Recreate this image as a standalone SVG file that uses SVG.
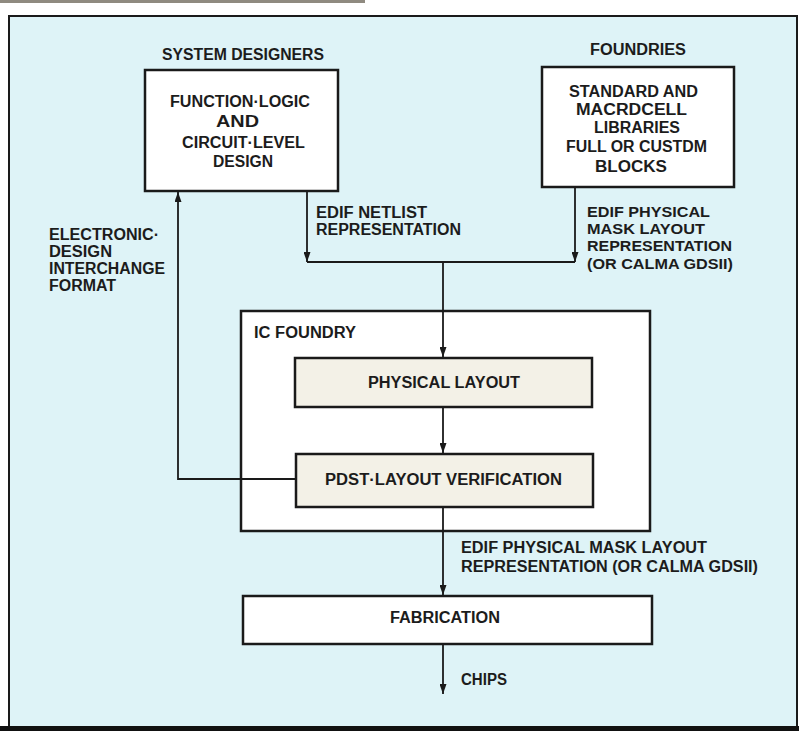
<svg xmlns="http://www.w3.org/2000/svg" width="799" height="731" viewBox="0 0 799 731">
<defs>
<marker id="ah" viewBox="0 0 10 7" refX="10" refY="3.5" markerWidth="10" markerHeight="7" markerUnits="userSpaceOnUse" orient="auto">
<path d="M0,0 L10,3.5 L0,7 Z" fill="#1a1a1a"/>
</marker>
<style>
text{font-family:"Liberation Sans",Arial,sans-serif;font-weight:bold;font-size:16px;fill:#1c1c1c;}
.lbl{font-size:16px;}
.sm{font-size:15px;}
.box{fill:#ffffff;stroke:#1a1a1a;stroke-width:2.5;}
.gbox{fill:#f3f1e7;stroke:#1a1a1a;stroke-width:2.5;}
.con{fill:none;stroke:#1a1a1a;stroke-width:1.8;}
.arr{marker-end:url(#ah);}
</style>
</defs>
<rect x="0" y="0" width="799" height="731" fill="#ffffff"/>
<rect x="0" y="0" width="365" height="3" fill="#8f8a80"/>
<rect id="frame" x="9" y="16" width="788" height="711" fill="#def3f7" stroke="#1a1a1a" stroke-width="2"/>
<rect x="0" y="726" width="799" height="5" fill="#111111"/>

<g id="system-designers">
<text x="162" y="60" textLength="162" lengthAdjust="spacingAndGlyphs">SYSTEM DESIGNERS</text>
<rect class="box" x="145" y="70" width="193" height="121"/>
<text x="170" y="107" textLength="140" lengthAdjust="spacingAndGlyphs">FUNCTION·LOGIC</text>
<text x="216" y="127" textLength="43" lengthAdjust="spacingAndGlyphs">AND</text>
<text x="182" y="148" textLength="123" lengthAdjust="spacingAndGlyphs">CIRCUIT·LEVEL</text>
<text x="213" y="167" textLength="60" lengthAdjust="spacingAndGlyphs">DESIGN</text>
</g>

<g id="foundries">
<text x="590" y="55" textLength="96" lengthAdjust="spacingAndGlyphs">FOUNDRIES</text>
<rect class="box" x="542" y="67" width="192" height="120"/>
<text x="569" y="97" textLength="129" lengthAdjust="spacingAndGlyphs">STANDARD AND</text>
<text x="576" y="115" textLength="111" lengthAdjust="spacingAndGlyphs">MACRDCELL</text>
<text x="594" y="133" textLength="86" lengthAdjust="spacingAndGlyphs">LIBRARIES</text>
<text x="566" y="152" textLength="141" lengthAdjust="spacingAndGlyphs">FULL OR CUSTDM</text>
<text x="595" y="172" textLength="72" lengthAdjust="spacingAndGlyphs">BLOCKS</text>
</g>

<g id="label-netlist">
<text class="lbl" x="316" y="218" textLength="111" lengthAdjust="spacingAndGlyphs">EDIF NETLIST</text>
<text class="lbl" x="316" y="235" textLength="145" lengthAdjust="spacingAndGlyphs">REPRESENTATION</text>
</g>

<g id="label-physical-mask">
<text class="sm" x="587" y="217" textLength="123" lengthAdjust="spacingAndGlyphs">EDIF PHYSICAL</text>
<text class="sm" x="587" y="234" textLength="118" lengthAdjust="spacingAndGlyphs">MASK LAYOUT</text>
<text class="sm" x="587" y="251" textLength="145" lengthAdjust="spacingAndGlyphs">REPRESENTATION</text>
<text class="sm" x="587" y="268.5" textLength="146" lengthAdjust="spacingAndGlyphs">(OR CALMA GDSII)</text>
</g>

<g id="label-edif">
<text class="lbl" x="49" y="240" textLength="110" lengthAdjust="spacingAndGlyphs">ELECTRONIC·</text>
<text class="lbl" x="49" y="257" textLength="63" lengthAdjust="spacingAndGlyphs">DESIGN</text>
<text class="lbl" x="49" y="274" textLength="116" lengthAdjust="spacingAndGlyphs">INTERCHANGE</text>
<text class="lbl" x="49" y="291" textLength="67" lengthAdjust="spacingAndGlyphs">FORMAT</text>
</g>

<g id="ic-foundry">
<rect class="box" x="241" y="311" width="409" height="220"/>
<text x="254" y="338" textLength="102" lengthAdjust="spacingAndGlyphs">IC FOUNDRY</text>
</g>

<g id="physical-layout">
<rect class="gbox" x="295" y="358" width="297" height="49"/>
<text x="368" y="388" textLength="152" lengthAdjust="spacingAndGlyphs">PHYSICAL LAYOUT</text>
</g>

<g id="post-layout">
<rect class="gbox" x="296" y="454" width="297" height="53"/>
<text x="325" y="485" textLength="237" lengthAdjust="spacingAndGlyphs">PDST·LAYOUT VERIFICATION</text>
</g>

<g id="label-mask2">
<text class="lbl" x="461" y="553" textLength="246" lengthAdjust="spacingAndGlyphs">EDIF PHYSICAL MASK LAYOUT</text>
<text class="lbl" x="461" y="572" textLength="297" lengthAdjust="spacingAndGlyphs">REPRESENTATION (OR CALMA GDSII)</text>
</g>

<g id="fabrication">
<rect class="box" x="243" y="596" width="409" height="48"/>
<text x="390" y="623" textLength="110" lengthAdjust="spacingAndGlyphs">FABRICATION</text>
</g>

<g id="label-chips">
<text class="lbl" x="461" y="685" textLength="46" lengthAdjust="spacingAndGlyphs">CHIPS</text>
</g>

<g id="connectors">
<path class="con arr" d="M307,192 V262"/>
<path class="con arr" d="M575,188 V262"/>
<path class="con" d="M307,262 H575"/>
<path class="con arr" d="M443,262 V357"/>
<path class="con arr" d="M443,408 V453"/>
<path class="con arr" d="M295,479 H178 V192"/>
<path class="con arr" d="M443,508 V595"/>
<path class="con arr" d="M443,645 V694"/>
</g>
</svg>
